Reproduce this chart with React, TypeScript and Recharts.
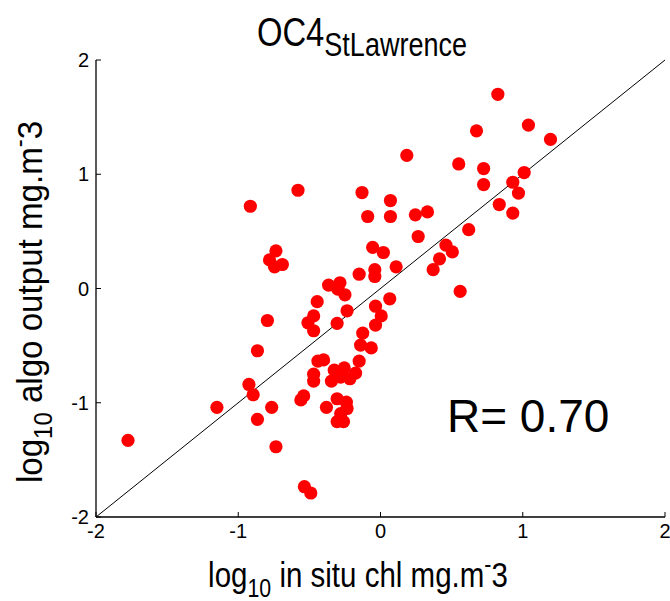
import React from 'react';
import { ScatterChart, Scatter, XAxis, YAxis, ReferenceLine, Customized } from 'recharts';

// log10 in situ chl (x) and log10 algorithm output (y)
const insituLog = [
  -1.775, -1.15, -0.915, -0.58, -0.13, -0.09, -0.055, -0.735, -0.78, -0.69,
  -0.745, -0.15, -0.04, -0.04, -0.365, -0.285, 0.825, 1.04, 0.675, 1.195,
  0.185, 0.55, 0.725, 1.01, 0.725, 0.93, 0.97, 0.835, 0.93, 0.07,
  0.07, 0.245, 0.33, 0.265, 0.62, 0.02, 0.46, 0.505, 0.415, 0.11,
  0.37, 0.56, 0.065, -0.035, 0.005, -0.035, -0.065, -0.795, -0.865, -0.925,
  -0.895, -0.765, -0.865, -0.735, -0.535, -0.49, -0.445, -0.47, -0.51, -0.47,
  -0.305, -0.235, -0.25, -0.3, -0.125, -0.14, -0.15, -0.44, -0.4, -0.47,
  -0.47, -0.345, -0.325, -0.255, -0.215, -0.175, -0.28, -0.56, -0.54, -0.38,
  -0.305, -0.24, -0.235, -0.305, -0.26, -0.28,
];
const algoLog = [
  -1.33, -1.04, 0.72, 0.86, 0.84, 0.63, 0.36, 0.33, 0.25, 0.21,
  0.19, 0.125, 0.165, 0.105, 0.03, 0.05, 1.7, 1.43, 1.38, 1.305,
  1.165, 1.09, 1.05, 1.015, 0.91, 0.93, 0.835, 0.735, 0.66, 0.77,
  0.63, 0.645, 0.67, 0.455, 0.515, 0.315, 0.38, 0.32, 0.26, 0.19,
  0.165, -0.025, -0.09, -0.155, -0.24, -0.32, -0.52, -0.28, -0.545, -0.84,
  -0.93, -1.04, -1.145, -1.385, -1.735, -1.79, -0.115, -0.24, -0.3, -0.37,
  -0.305, -0.195, -0.055, -0.005, -0.39, -0.495, -0.635, -0.635, -0.625, -0.75,
  -0.81, -0.81, -0.715, -0.695, -0.79, -0.74, -0.775, -0.975, -0.94, -1.04,
  -0.965, -0.995, -1.05, -1.165, -1.165, -1.095,
];
const axisTicks = [-2, -1, 0, 1, 2];
const axisDomain = [-2, 2];
const titleMain = 'OC4';
const titleSub = 'StLawrence';
const rLabel = 'R= 0.70';

const points = insituLog.map((x, i) => ({ x, y: algoLog[i] }));

const FONT = '"Liberation Sans", Arial, Helvetica, sans-serif';
const NARROW = 0.82;
const TICK_FS = 20;

const Dot = (p: any) => <circle cx={p.cx} cy={p.cy} r={6.6} fill="#ff0000" />;

const BottomTick = (p: any) => (
  <text x={p.x} y={p.y + 15} textAnchor="middle" fontSize={TICK_FS} fontFamily={FONT} fill="#000">
    {p.payload.value}
  </text>
);

const LeftTick = (p: any) => (
  <text x={p.x} y={p.y + 7} textAnchor="end" fontSize={TICK_FS} fontFamily={FONT} fill="#000">
    {p.payload.value}
  </text>
);

const Labels = () => (
  <g fontFamily={FONT} fill="#000">
    <g transform={`translate(362,46) scale(${NARROW},1)`}>
      <text x={0} y={0} textAnchor="middle" fontSize={40}>
        {titleMain}
        <tspan fontSize={33} dy={10}>{titleSub}</tspan>
      </text>
    </g>
    <g transform={`translate(358,587) scale(${NARROW},1)`}>
      <text x={0} y={0} textAnchor="middle" fontSize={36}>
        log<tspan fontSize={26} dy={10}>10</tspan>
        <tspan dy={-10}> in situ chl mg.m</tspan>
        <tspan fontSize={26} dy={-14}>-</tspan>
        <tspan dy={14}>3</tspan>
      </text>
    </g>
    <g transform={`translate(42,302) rotate(-90) scale(0.92,1)`}>
      <text x={0} y={0} textAnchor="middle" fontSize={36}>
        log<tspan fontSize={26} dy={10}>10</tspan>
        <tspan dy={-10}> algo output mg.m</tspan>
        <tspan fontSize={26} dy={-14}>-</tspan>
        <tspan dy={14}>3</tspan>
      </text>
    </g>
    <text x={447} y={432} fontSize={46}>{rLabel}</text>
  </g>
);

export default function App() {
  return (
    <div style={{ position: 'absolute', left: 0, top: 0, width: 670, height: 601, background: '#fff' }}>
      <ScatterChart width={670} height={601} margin={{ top: 60, right: 5, bottom: 0, left: 0 }}>
        <XAxis
          xAxisId="b"
          type="number"
          dataKey="x"
          domain={axisDomain}
          ticks={axisTicks}
          height={84}
          tickSize={-5}
          tickMargin={11}
          axisLine={{ stroke: '#000', strokeWidth: 1.3 }}
          tickLine={{ stroke: '#000' }}
          tick={BottomTick}
          allowDataOverflow
        />
        <XAxis
          xAxisId="t"
          orientation="top"
          type="number"
          domain={axisDomain}
          ticks={axisTicks}
          height={0}
          tickSize={-5}
          tick={false}
          axisLine={{ stroke: '#000', strokeWidth: 1.3 }}
          tickLine={{ stroke: '#000' }}
          allowDataOverflow
        />
        <YAxis
          yAxisId="l"
          type="number"
          dataKey="y"
          domain={axisDomain}
          ticks={axisTicks}
          width={96}
          tickSize={-5}
          tickMargin={12}
          axisLine={{ stroke: '#000', strokeWidth: 1.3 }}
          tickLine={{ stroke: '#000' }}
          tick={LeftTick}
          allowDataOverflow
        />
        <YAxis
          yAxisId="r"
          orientation="right"
          type="number"
          domain={axisDomain}
          ticks={axisTicks}
          width={0}
          tickSize={-5}
          tick={false}
          axisLine={{ stroke: '#333', strokeWidth: 2 }}
          tickLine={{ stroke: '#000' }}
          allowDataOverflow
        />
        <ReferenceLine
          xAxisId="b"
          yAxisId="l"
          segment={[{ x: -2, y: -2 }, { x: 2, y: 2 }]}
          stroke="#000"
          strokeWidth={1}
        />
        <Scatter
          xAxisId="b"
          yAxisId="l"
          data={points}
          shape={Dot}
          isAnimationActive={false}
        />
        <Customized component={Labels} />
      </ScatterChart>
    </div>
  );
}
